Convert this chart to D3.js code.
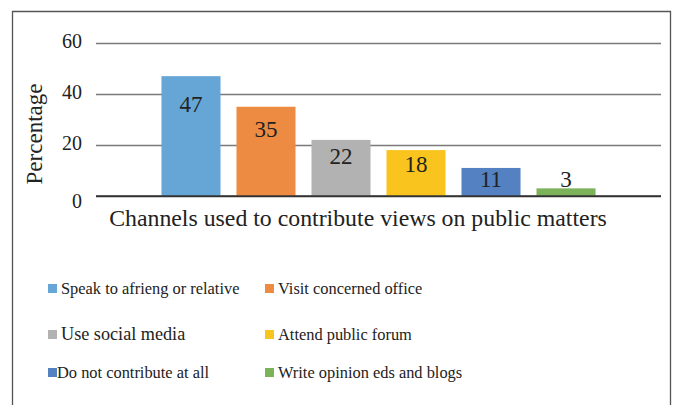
<!DOCTYPE html>
<html>
<head>
<meta charset="utf-8">
<script src="https://cdn.jsdelivr.net/npm/d3@7"></script>
<style>
  html, body { margin: 0; padding: 0; background: #fff; }
  svg { display: block; font-family: "Liberation Serif", "DejaVu Serif", serif; }
  svg text { font-family: "Liberation Serif", "DejaVu Serif", serif; }
</style>
</head>
<body>
<svg id="chart" width="675" height="405"></svg>
<script>
// Channels used to contribute views on public matters (%)
const categories = [
  "Speak to afrieng or relative",
  "Visit concerned office",
  "Use social media",
  "Attend public forum",
  "Do not contribute at all",
  "Write opinion eds and blogs"
];
const values = [47, 35, 22, 18, 11, 3];
const colors = ["#65A6D6", "#EE8B42", "#B2B2B2", "#F9C41D", "#5381C2", "#7CB25A"];
const yTicks = [0, 20, 40, 60];
const yLabel = "Percentage";
const xLabel = "Channels used to contribute views on public matters";

const svg = d3.select("#chart");

// outer frame (open at the bottom edge of the view)
svg.append("path")
  .attr("d", "M12.5,420 V11.5 H670.5 V420")
  .attr("fill", "none")
  .attr("stroke", "#555")
  .attr("stroke-width", 1.3);

const plot = { left: 96, right: 661, top: 43, bottom: 196 };

const x = d3.scaleBand()
  .domain(categories)
  .range([plot.left, plot.right])
  .paddingInner(0.213)
  .paddingOuter(0.873);

const y = d3.scaleLinear()
  .domain([0, 60])
  .range([plot.bottom, plot.top]);

// horizontal gridlines with tick labels
const yAxis = d3.axisLeft(y)
  .tickValues(yTicks)
  .tickSize(-(plot.right - plot.left))
  .tickPadding(14);

const gy = svg.append("g")
  .attr("transform", `translate(${plot.left},0)`)
  .call(yAxis);
gy.attr("font-family", null);
gy.select(".domain").remove();
gy.selectAll(".tick line")
  .attr("stroke", d => d === 0 ? "#333" : "#7a7a7a")
  .attr("stroke-width", 1.4);
gy.selectAll(".tick text")
  .attr("fill", "#222")
  .attr("font-size", 20)
  .attr("dy", d => d === 0 ? "0.55em" : "0.2em");

// bars
svg.append("g").selectAll("rect")
  .data(values)
  .join("rect")
  .attr("x", (d, i) => x(categories[i]))
  .attr("y", d => y(d))
  .attr("width", x.bandwidth())
  .attr("height", d => y(0) - y(d))
  .attr("fill", (d, i) => colors[i]);

// baseline drawn over bars
svg.append("line")
  .attr("x1", plot.left).attr("x2", plot.right)
  .attr("y1", y(0)).attr("y2", y(0))
  .attr("stroke", "#333").attr("stroke-width", 1.4);

// value labels
svg.append("g").selectAll("text")
  .data(values)
  .join("text")
  .attr("x", (d, i) => x(categories[i]) + x.bandwidth() / 2)
  .attr("y", d => Math.min(y(d) + 14 + 0.18 * (y(0) - y(d)), y(0) - 9))
  .attr("text-anchor", "middle")
  .attr("font-size", 23)
  .attr("fill", "#222")
  .text(d => d);

// axis titles
svg.append("text")
  .attr("transform", "translate(42,134) rotate(-90)")
  .attr("text-anchor", "middle")
  .attr("font-size", 23)
  .attr("fill", "#222")
  .text(yLabel);

svg.append("text")
  .attr("x", 358)
  .attr("y", 226)
  .attr("text-anchor", "middle")
  .attr("font-size", 23.8)
  .attr("fill", "#222")
  .text(xLabel);

// legend: two columns, three rows
const legendCols = [48, 265];
const legendRows = [294, 340, 378];
const legend = svg.append("g");
categories.forEach((c, i) => {
  const lx = legendCols[i % 2];
  const ly = legendRows[Math.floor(i / 2)];
  const big = i === 2;
  legend.append("rect")
    .attr("x", lx)
    .attr("y", ly - 10)
    .attr("width", 9)
    .attr("height", 9)
    .attr("fill", colors[i]);
  legend.append("text")
    .attr("x", lx + (i === 4 ? 9 : 13))
    .attr("y", ly)
    .attr("font-size", big ? 18.2 : 16.4)
    .attr("fill", "#222")
    .text(c);
});
</script>
</body>
</html>
